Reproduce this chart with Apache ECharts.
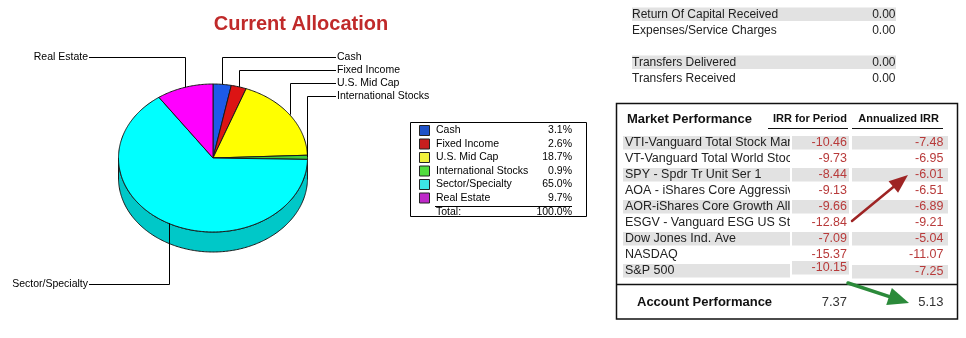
<!DOCTYPE html>
<html><head><meta charset="utf-8">
<script src="https://cdn.jsdelivr.net/npm/echarts@6/dist/echarts.min.js"></script>
<style>html,body{margin:0;padding:0;background:#fff}#c{width:966px;height:338px}</style>
</head><body><div id="c"></div>
<script>
// ---------- data ----------
const categories = ['Cash', 'Fixed Income', 'U.S. Mid Cap', 'International Stocks', 'Sector/Specialty', 'Real Estate'];
const allocation = [3.1, 2.6, 18.7, 0.9, 65.0, 9.7];

const summaryLabels = ['Return Of Capital Received', 'Expenses/Service Charges', 'Transfers Delivered', 'Transfers Received'];
const summaryValues = ['0.00', '0.00', '0.00', '0.00'];

const marketNames = ['VTI-Vanguard Total Stock Mar', 'VT-Vanguard Total World Stoc', 'SPY - Spdr Tr Unit Ser 1',
  'AOA - iShares Core Aggressive', 'AOR-iShares Core Growth Alloc', 'ESGV - Vanguard ESG US Stoc',
  'Dow Jones Ind. Ave', 'NASDAQ', 'S&P 500'];
const irrPeriod = [-10.46, -9.73, -8.44, -9.13, -9.66, -12.84, -7.09, -15.37, -10.15];
const irrAnnualized = [-7.48, -6.95, -6.01, -6.51, -6.89, -9.21, -5.04, -11.07, -7.25];
const accountLabel = 'Account Performance';
const accountIrrPeriod = 7.37;
const accountIrrAnnualized = 5.13;

// ---------- styles / layout ----------
const sliceColors = ['#1d5ae8', '#dc1414', '#ffff00', '#3ccc3c', '#00ffff', '#ff00ff'];
const wallColors  = ['#1648b0', '#a80f0f', '#c8c800', '#2da02d', '#00c8c8', '#c000c0'];
const legendColors = ['#1f52c8', '#c81e1e', '#f0f03c', '#50dc3c', '#3ce6e6', '#be28c8'];
const labelLayout = [
  {x: 337, y: 57, side: 'right'}, {x: 337, y: 70, side: 'right'},
  {x: 337, y: 83, side: 'right'}, {x: 337, y: 96, side: 'right'},
  {x: 89, y: 284, side: 'left'}, {x: 89, y: 57, side: 'left'}
];
const CX = 213, CY = 158, RX = 94.5, RY = 74, DEPTH = 20;
const SMALL = 'Liberation Sans, Arial, sans-serif';
const ROWF = 12.5;
const BAND = '#e2e2e2';

const total = allocation.reduce((a, b) => a + b, 0);
const cum = []; { let acc = 0; allocation.forEach(v => { cum.push(acc); acc += v; }); }
function pt(t, dy) { return [CX + RX * Math.sin(t), CY - RY * Math.cos(t) + (dy || 0)]; }
function arc(a, b, dy) {
  const n = Math.max(2, Math.ceil(Math.abs(b - a) / 0.015));
  const out = [];
  for (let k = 0; k <= n; k++) out.push(pt(a + (b - a) * k / n, dy));
  return out;
}

function renderSlice(params, api) {
  const i = params.dataIndex;
  const v = api.value(0);
  const TAU = Math.PI * 2;
  const s = cum[i] / total * TAU, e = (cum[i] + v) / total * TAU;
  const children = [];
  const a = Math.max(s, Math.PI / 2), b = Math.min(e, Math.PI * 1.5);
  if (b > a) {
    const wall = arc(a, b, 0).concat(arc(b, a, DEPTH));
    children.push({type: 'polygon', shape: {points: wall}, z2: 5,
      style: {fill: wallColors[i], stroke: '#1a1a1a', lineWidth: 1}});
  }
  const face = [[CX, CY]].concat(arc(s, e, 0));
  children.push({type: 'polygon', shape: {points: face}, z2: 10,
    style: {fill: sliceColors[i], stroke: '#1a1a1a', lineWidth: 1}});
  const m = (s + e) / 2;
  const an = pt(m, 0);
  const L = labelLayout[i];
  const ax = Math.round(an[0]) + 0.5, ly = L.y + 0.5;
  const lx = L.side === 'right' ? L.x - 1 : L.x;
  children.push({type: 'polyline', z2: 20,
    shape: {points: [[lx, ly], [ax, ly], [ax, an[1]]]},
    style: {stroke: '#000', lineWidth: 1, fill: null}});
  children.push({type: 'text', z2: 21, x: L.side === 'right' ? L.x : L.x - 1, y: L.y,
    style: {text: categories[i], fontSize: 10.5, fontFamily: SMALL, fill: '#000',
      align: L.side === 'right' ? 'left' : 'right', verticalAlign: 'middle'}});
  return {type: 'group', children};
}

// ---------- graphic: legend box ----------
const graphic = [];
graphic.push({type: 'rect', z: 1, shape: {x: 410.5, y: 122.5, width: 176, height: 94},
  style: {fill: '#fff', stroke: '#000', lineWidth: 1}});
categories.forEach((c, i) => {
  const y = 130.5 + 13.5 * i;
  graphic.push({type: 'rect', z: 2, shape: {x: 419.5, y: y - 5, width: 10, height: 10},
    style: {fill: legendColors[i], stroke: '#222', lineWidth: 1}});
  graphic.push({type: 'text', z: 2, x: 436, y: y,
    style: {text: c, fontSize: 10.5, fontFamily: SMALL, fill: '#000', align: 'left', verticalAlign: 'middle'}});
  graphic.push({type: 'text', z: 2, x: 572, y: y,
    style: {text: allocation[i].toFixed(1) + '%', fontSize: 10.5, fontFamily: SMALL, fill: '#000', align: 'right', verticalAlign: 'middle'}});
});
graphic.push({type: 'line', z: 2, shape: {x1: 435, y1: 206.5, x2: 572, y2: 206.5}, style: {stroke: '#000', lineWidth: 1}});
graphic.push({type: 'text', z: 2, x: 436, y: 212.5,
  style: {text: 'Total:', fontSize: 10.5, fontFamily: SMALL, fill: '#000', align: 'left', verticalAlign: 'middle'}});
graphic.push({type: 'text', z: 2, x: 572, y: 212.5,
  style: {text: total.toFixed(1) + '%', fontSize: 10.5, fontFamily: SMALL, fill: '#000', align: 'right', verticalAlign: 'middle'}});

// ---------- graphic: summary table ----------
const summaryRows = [0, 1, 3, 4];
summaryLabels.forEach((lab, k) => {
  const y = 14.5 + 16 * summaryRows[k];
  if (k % 2 === 0) graphic.push({type: 'rect', z: 1, shape: {x: 632, y: y - 7, width: 264, height: 13.5}, style: {fill: BAND}});
  graphic.push({type: 'text', z: 2, x: 632, y: y,
    style: {text: lab, fontSize: 12, fontFamily: SMALL, fill: '#222', align: 'left', verticalAlign: 'middle'}});
  graphic.push({type: 'text', z: 2, x: 895.5, y: y,
    style: {text: summaryValues[k], fontSize: 12, fontFamily: SMALL, fill: '#222', align: 'right', verticalAlign: 'middle'}});
});

// ---------- graphic: market performance ----------
graphic.push({type: 'rect', z: 6, shape: {x: 616.5, y: 103.5, width: 341, height: 215.5},
  style: {fill: 'none', stroke: '#111', lineWidth: 1.5}});
graphic.push({type: 'line', z: 6, shape: {x1: 616.5, y1: 284.5, x2: 957.5, y2: 284.5}, style: {stroke: '#111', lineWidth: 1.5}});
graphic.push({type: 'text', z: 4, x: 627, y: 119,
  style: {text: 'Market Performance', fontSize: 13, fontWeight: 'bold', fontFamily: SMALL, fill: '#111', align: 'left', verticalAlign: 'middle'}});
graphic.push({type: 'text', z: 4, x: 847, y: 118.5,
  style: {text: 'IRR for Period', fontSize: 11, fontWeight: 'bold', fontFamily: SMALL, fill: '#111', align: 'right', verticalAlign: 'middle'}});
graphic.push({type: 'text', z: 4, x: 939, y: 118.5,
  style: {text: 'Annualized IRR', fontSize: 11, fontWeight: 'bold', fontFamily: SMALL, fill: '#111', align: 'right', verticalAlign: 'middle'}});
graphic.push({type: 'line', z: 4, shape: {x1: 768, y1: 128.5, x2: 848, y2: 128.5}, style: {stroke: '#111', lineWidth: 1}});
graphic.push({type: 'line', z: 4, shape: {x1: 852, y1: 128.5, x2: 943, y2: 128.5}, style: {stroke: '#111', lineWidth: 1}});
marketNames.forEach((n, i) => {
  const y = 142.5 + 16 * i;
  const last = i === marketNames.length - 1;
  const yIrr = last ? y - 3 : y, yAnn = last ? y + 1 : y;
  // name column (clipped by the cover drawn above it)
  if (i % 2 === 0) graphic.push({type: 'rect', z: 1, shape: {x: 623, y: y - 6.5, width: 167, height: 13.5}, style: {fill: BAND}});
  graphic.push({type: 'text', z: 2, x: 625, y: y,
    style: {text: n, fontSize: ROWF, fontFamily: SMALL, fill: '#222', align: 'left', verticalAlign: 'middle'}});
  graphic.push({type: 'rect', z: 3, shape: {x: 790, y: y - 8, width: 62, height: 16}, style: {fill: '#fff'}});
  if (i % 2 === 0) {
    graphic.push({type: 'rect', z: 3, shape: {x: 792, y: yIrr - 6.5, width: 57, height: 13.5}, style: {fill: BAND}});
    graphic.push({type: 'rect', z: 3, shape: {x: 852, y: yAnn - 6.5, width: 96, height: 13.5}, style: {fill: BAND}});
  }
  graphic.push({type: 'text', z: 4, x: 847, y: yIrr,
    style: {text: irrPeriod[i].toFixed(2), fontSize: ROWF, fontFamily: SMALL, fill: '#b83a3a', align: 'right', verticalAlign: 'middle'}});
  graphic.push({type: 'text', z: 4, x: 943.5, y: yAnn,
    style: {text: irrAnnualized[i].toFixed(2), fontSize: ROWF, fontFamily: SMALL, fill: '#b83a3a', align: 'right', verticalAlign: 'middle'}});
});
graphic.push({type: 'text', z: 4, x: 637, y: 302,
  style: {text: accountLabel, fontSize: 13, fontWeight: 'bold', fontFamily: SMALL, fill: '#111', align: 'left', verticalAlign: 'middle'}});
graphic.push({type: 'text', z: 4, x: 847, y: 302,
  style: {text: accountIrrPeriod.toFixed(2), fontSize: 13, fontFamily: SMALL, fill: '#333', align: 'right', verticalAlign: 'middle'}});
graphic.push({type: 'text', z: 4, x: 943.5, y: 302,
  style: {text: accountIrrAnnualized.toFixed(2), fontSize: 13, fontFamily: SMALL, fill: '#333', align: 'right', verticalAlign: 'middle'}});

// arrows
function arrow(x1, y1, x2, y2, color, w, hl, hw) {
  const dx = x2 - x1, dy = y2 - y1, len = Math.hypot(dx, dy);
  const ux = dx / len, uy = dy / len, px = -uy, py = ux;
  const bx = x2 - ux * hl, by = y2 - uy * hl;
  graphic.push({type: 'line', z: 7, shape: {x1, y1, x2: bx + ux * 2, y2: by + uy * 2}, style: {stroke: color, lineWidth: w, lineCap: 'round'}});
  graphic.push({type: 'polygon', z: 7, shape: {points: [[x2, y2], [bx + px * hw / 2, by + py * hw / 2], [bx - px * hw / 2, by - py * hw / 2]]},
    style: {fill: color}});
}
arrow(852, 221, 908, 175, '#9e2424', 2.5, 19, 15);
arrow(848, 283, 909, 303, '#2b8a3a', 3.5, 21, 18);

const chart = echarts.init(document.getElementById('c'), null, {renderer: 'canvas'});
chart.setOption({
  backgroundColor: '#fff',
  animation: false,
  title: {text: 'Current Allocation', left: 296, top: 9, textAlign: 'center',
    textStyle: {fontSize: 20, fontWeight: 'bold', color: '#c02a2a', fontFamily: SMALL}},
  series: [{
    type: 'custom',
    coordinateSystem: 'none',
    renderItem: renderSlice,
    data: allocation.map((v, i) => ({value: [v], name: categories[i]})),
    silent: true
  }],
  graphic: graphic
});
</script>
</body></html>
